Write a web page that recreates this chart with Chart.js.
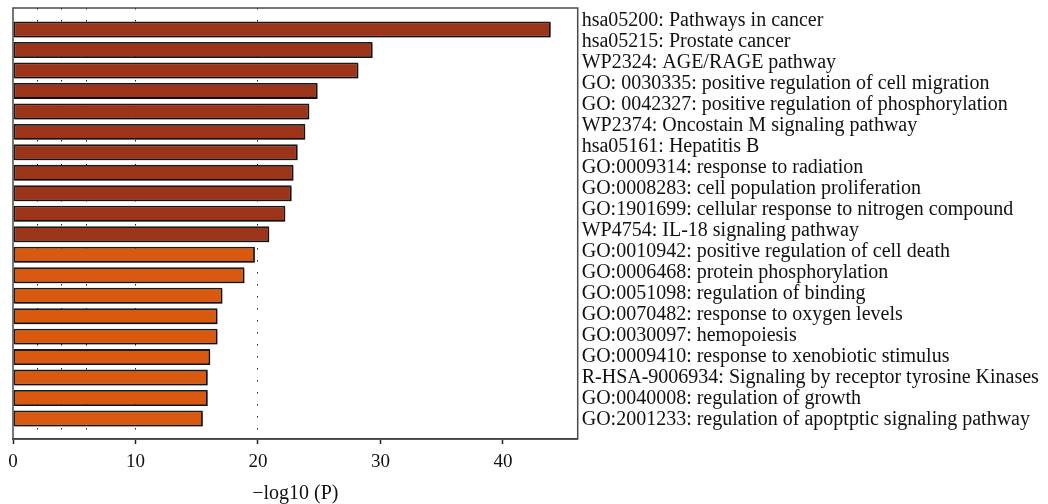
<!DOCTYPE html>
<html>
<head>
<meta charset="utf-8">
<script src="https://cdn.jsdelivr.net/npm/chart.js@4/dist/chart.umd.min.js"></script>
<style>
  html, body { margin: 0; padding: 0; background: #fff; }
  #wrap { width: 1048px; height: 504px; position: relative; }
</style>
</head>
<body>
<div id="wrap"><canvas id="enrichChart"></canvas></div>
<script>
// termer (uppifrån och ned) och deras -log10(P)
const terms = [
  'hsa05200: Pathways in cancer',
  'hsa05215: Prostate cancer',
  'WP2324: AGE/RAGE pathway',
  'GO: 0030335: positive regulation of cell migration',
  'GO: 0042327: positive regulation of phosphorylation',
  'WP2374: Oncostain M signaling pathway',
  'hsa05161: Hepatitis B',
  'GO:0009314: response to radiation',
  'GO:0008283: cell population proliferation',
  'GO:1901699: cellular response to nitrogen compound',
  'WP4754: IL-18 signaling pathway',
  'GO:0010942: positive regulation of cell death',
  'GO:0006468: protein phosphorylation',
  'GO:0051098: regulation of binding',
  'GO:0070482: response to oxygen levels',
  'GO:0030097: hemopoiesis',
  'GO:0009410: response to xenobiotic stimulus',
  'R-HSA-9006934: Signaling by receptor tyrosine Kinases',
  'GO:0040008: regulation of growth',
  'GO:2001233: regulation of apoptptic signaling pathway'
];
const logP = [43.9, 29.36, 28.2, 24.87, 24.19, 23.86, 23.24, 22.9, 22.75, 22.23,
              20.92, 19.75, 18.9, 17.1, 16.7, 16.7, 16.1, 15.9, 15.9, 15.5];
// 11 första är mörkröda, resten orange
const group = ['dark','dark','dark','dark','dark','dark','dark','dark','dark','dark',
               'dark','light','light','light','light','light','light','light','light','light'];

const xTickValues = [0, 2, 4, 6, 10, 20, 30, 40];
const xLabeled = [0, 10, 20, 30, 40];
const xDotted = [2, 4, 6, 10, 20];

const colors = { dark: '#9b3419', light: '#d9590f' };
const serif = '"Liberation Serif", "Times New Roman", serif';

// ram runt ritytan + skugga under staplarna
const framePlugin = {
  id: 'frame',
  beforeDatasetsDraw(chart) {
    const c = chart.ctx;
    c.save();
    c.shadowColor = 'rgba(0,0,0,0.3)';
    c.shadowOffsetX = 1.5;
    c.shadowOffsetY = 1.5;
    c.shadowBlur = 0;
  },
  afterDatasetsDraw(chart) {
    const c = chart.ctx;
    c.restore();
    const a = chart.chartArea;
    c.save();
    c.strokeStyle = '#4a4a4a';
    c.lineWidth = 1.5;
    c.strokeRect(a.left, a.top, a.right - a.left, a.bottom - a.top);
    c.restore();
  }
};

const data = logP.map((v, i) => ({ x: v, y: i }));

new Chart(document.getElementById('enrichChart'), {
  type: 'bar',
  data: {
    datasets: [{
      data: data,
      backgroundColor: group.map(g => colors[g]),
      borderColor: '#1a1a1a',
      borderWidth: 1.8,
      borderSkipped: false,
      categoryPercentage: 1,
      barPercentage: 0.78,
      yAxisID: 'y'
    }]
  },
  options: {
    indexAxis: 'y',
    responsive: true,
    maintainAspectRatio: false,
    animation: false,
    layout: { padding: { top: 8, left: 13, right: 0, bottom: 0 } },
    plugins: { legend: { display: false }, tooltip: { enabled: false } },
    scales: {
      x: {
        type: 'linear',
        min: 0,
        max: 46.1,
        afterBuildTicks: scale => { scale.ticks = xTickValues.map(v => ({ value: v })); },
        afterFit: scale => { scale.height = 65; },
        ticks: {
          autoSkip: false,
          maxRotation: 0,
          padding: 7,
          color: '#111',
          font: { family: serif, size: 19 },
          callback: v => xLabeled.includes(v) ? String(v) : ''
        },
        grid: {
          drawOnChartArea: true,
          lineWidth: 1,
          color: ctx => (ctx.tick && xDotted.includes(ctx.tick.value)) ? '#222' : 'rgba(0,0,0,0)',
          tickColor: ctx => (ctx.tick && xLabeled.includes(ctx.tick.value)) ? '#222' : 'rgba(0,0,0,0)',
          tickLength: 5,
          tickWidth: 1.5
        },
        border: { display: true, color: '#222', width: 1.5, dash: [1.5, 10.5] },
        title: {
          display: true,
          text: '\u2212log10 (P)',
          color: '#111',
          font: { family: serif, size: 20, lineHeight: 1.0 },
          padding: { top: 0, bottom: 0 }
        }
      },
      y: {
        type: 'linear',
        offset: false,
        reverse: true,
        min: -1.05,
        max: 20,
        display: false
      },
      yLabels: {
        type: 'linear',
        offset: false,
        position: 'right',
        reverse: true,
        min: -0.6,
        max: 19.9,
        afterBuildTicks: scale => { scale.ticks = terms.map((t, i) => ({ value: i })); },
        afterFit: scale => {
          scale.width = 470.3;
          // etiketterna ligger inte i kanten, ingen extra marginal behövs
          scale.paddingTop = 0;
          scale.paddingBottom = 0;
        },
        grid: { display: false, drawTicks: false },
        border: { display: false },
        ticks: {
          autoSkip: false,
          padding: 4,
          color: '#111',
          font: { family: serif, size: 20 },
          callback: v => terms[v] || ''
        }
      }
    }
  },
  plugins: [framePlugin]
});
</script>
</body>
</html>
